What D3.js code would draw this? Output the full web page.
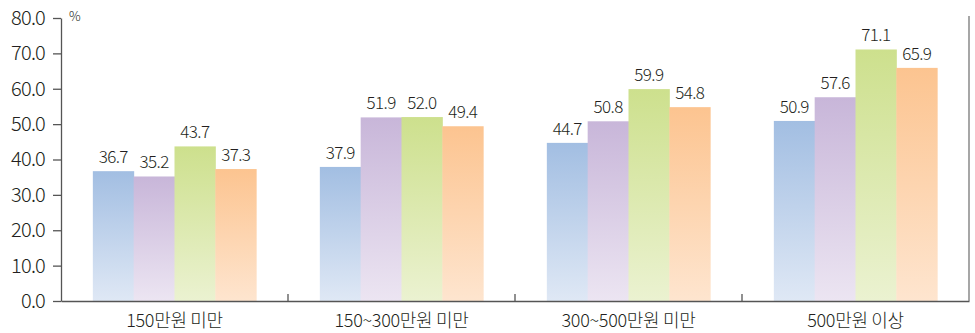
<!DOCTYPE html>
<html>
<head>
<meta charset="utf-8">
<script src="https://cdn.jsdelivr.net/npm/d3@7"></script>
<style>
  body { margin: 0; background: #fff; }
  text { font-family: "Noto Sans CJK KR", "Noto Sans", sans-serif; font-weight: 300; fill: #231f20; }
</style>
</head>
<body>
<script>
// data
var categories = ['150만원 미만', '150~300만원 미만', '300~500만원 미만', '500만원 이상'];
var series = ['s1', 's2', 's3', 's4'];
var s1 = [36.7, 37.9, 44.7, 50.9];
var s2 = [35.2, 51.9, 50.8, 57.6];
var s3 = [43.7, 52.0, 59.9, 71.1];
var s4 = [37.3, 49.4, 54.8, 65.9];
var yTicks = [0, 10, 20, 30, 40, 50, 60, 70, 80];

var values = [s1, s2, s3, s4];
// top / bottom colours per series
var colors = [
  ['#a2bee2', '#dfe8f5'],
  ['#c8b6d9', '#ece5f2'],
  ['#cde08d', '#ebf2d1'],
  ['#fcc490', '#fee5cf']
];

var width = 975, height = 333;
var margin = {left: 61, right: 6, top: 18, bottom: 32};

var svg = d3.select('body').append('svg')
  .attr('width', width)
  .attr('height', height);

var defs = svg.append('defs');
colors.forEach((c, i) => {
  var g = defs.append('linearGradient')
    .attr('id', 'grad' + i)
    .attr('x1', 0).attr('y1', 0).attr('x2', 0).attr('y2', 1);
  g.append('stop').attr('offset', '0%').attr('stop-color', c[0]);
  g.append('stop').attr('offset', '100%').attr('stop-color', c[1]);
});

var x0 = d3.scaleBand()
  .domain(categories)
  .range([margin.left, width - margin.right])
  .paddingInner(0)
  .paddingOuter(0);

var x1 = d3.scaleBand()
  .domain(series)
  .range([0, x0.bandwidth()])
  .paddingOuter(0.78)
  .paddingInner(0);

var y = d3.scaleLinear()
  .domain([0, 80])
  .range([height - margin.bottom, margin.top]);

// bars
var groups = svg.selectAll('g.group')
  .data(categories)
  .join('g')
    .attr('class', 'group')
    .attr('transform', d => 'translate(' + x0(d) + ',0)');

groups.each(function(cat, ci) {
  var g = d3.select(this);
  var rows = series.map((s, si) => ({s: s, si: si, v: values[si][ci]}));
  g.selectAll('rect')
    .data(rows)
    .join('rect')
      .attr('x', d => x1(d.s))
      .attr('y', d => y(d.v))
      .attr('width', x1.bandwidth() + 0.5)
      .attr('height', d => y(0) - y(d.v))
      .attr('fill', d => 'url(#grad' + d.si + ')');
  g.selectAll('text.val')
    .data(rows)
    .join('text')
      .attr('class', 'val')
      .attr('x', d => x1(d.s) + x1.bandwidth() / 2)
      .attr('y', d => y(d.v) - 8)
      .attr('text-anchor', 'middle')
      .attr('font-size', 17)
      .attr('letter-spacing', -0.6)
      .text(d => d.v.toFixed(1));
});

// y axis
var yAxis = svg.append('g')
  .attr('transform', 'translate(' + margin.left + ',0)')
  .call(d3.axisLeft(y).tickValues(yTicks).tickFormat(d3.format('.1f')).tickSize(8).tickSizeOuter(0));
yAxis.select('.domain').attr('stroke', '#555').attr('stroke-width', 1.3);
yAxis.selectAll('.tick line').attr('stroke', '#555').attr('stroke-width', 1.3);
yAxis.selectAll('.tick text')
  .attr('x', -16)
  .attr('font-size', 20)
  .attr('letter-spacing', -0.8)
  .attr('fill', '#231f20');

// % unit
svg.append('text')
  .attr('x', margin.left + 8)
  .attr('y', margin.top + 3)
  .attr('font-size', 13)
  .text('%');

// x axis
var xAxis = svg.append('g')
  .attr('transform', 'translate(0,' + y(0) + ')')
  .call(d3.axisBottom(x0).tickSize(0).tickPadding(13));
xAxis.select('.domain').attr('stroke', '#555').attr('stroke-width', 1.3);
xAxis.selectAll('.tick text')
  .attr('font-size', 18)
  .attr('letter-spacing', -0.3)
  .attr('fill', '#231f20');

// separators between groups
svg.append('g').selectAll('line')
  .data(categories.slice(1))
  .join('line')
    .attr('x1', d => x0(d))
    .attr('x2', d => x0(d))
    .attr('y1', y(0))
    .attr('y2', y(0) - 7)
    .attr('stroke', '#555')
    .attr('stroke-width', 1.3);

// right border
svg.append('line')
  .attr('x1', width - margin.right)
  .attr('x2', width - margin.right)
  .attr('y1', y(80) - 2)
  .attr('y2', y(0))
  .attr('stroke', '#777')
  .attr('stroke-width', 1.3);
</script>
</body>
</html>
